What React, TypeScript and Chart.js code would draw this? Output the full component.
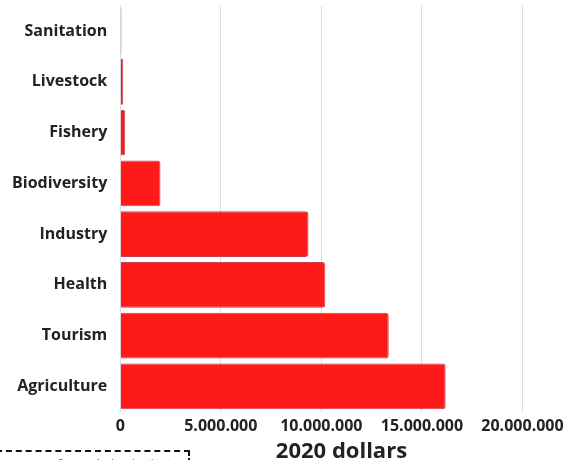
import React, { useEffect, useRef } from "react";
import { Chart, registerables } from "chart.js";

Chart.register(...registerables);

const categories = ["Sanitation", "Livestock", "Fishery", "Biodiversity", "Industry", "Health", "Tourism", "Agriculture"];
const values = [60000, 150000, 250000, 2000000, 9360000, 10200000, 13350000, 16180000];
const xTicks = [0, 5000000, 10000000, 15000000, 20000000];
const xMax = 22000000;
const xTitle = "2020 dollars";
const footnote = "Source: Authors' estimates (2020)";

const FONT = "'Open Sans', sans-serif";

export default function App() {
  const ref = useRef<HTMLCanvasElement>(null);
  useEffect(() => {
    if (!ref.current) return;
    const chart = new Chart(ref.current, {
      type: "bar",
      data: {
        labels: categories,
        datasets: [
          {
            data: values,
            backgroundColor: "#ff1a1a",
            borderColor: "#c84050",
            borderWidth: 1,
            borderRadius: 3,
            borderSkipped: "start",
            barPercentage: 0.95,
            categoryPercentage: 0.95,
          },
        ],
      },
      options: {
        indexAxis: "y",
        animation: false,
        responsive: false,
        maintainAspectRatio: false,
        layout: { padding: { top: 0, right: 4, left: 12, bottom: 0 } },
        plugins: { legend: { display: false }, tooltip: { enabled: false } },
        scales: {
          x: {
            min: 0,
            max: xMax,
            afterBuildTicks: (s: any) => {
              s.ticks = xTicks.map((v) => ({ value: v }));
            },
            ticks: {
              color: "#222",
              font: { family: FONT, size: 16, weight: "bold", lineHeight: 1.2 },
              callback: (v: any) => Number(v).toLocaleString("de-DE"),
              maxRotation: 0,
              autoSkip: false,
              padding: 5,
            },
            grid: { color: "#dddddd", drawTicks: false },
            border: { display: false },
            title: {
              display: true,
              text: xTitle,
              color: "#222",
              font: { family: FONT, size: 22, weight: "bold", lineHeight: 1.0 },
              padding: { top: 0, bottom: 0 },
            },
          },
          y: {
            ticks: {
              color: "#222",
              font: { family: FONT, size: 16, weight: "bold", lineHeight: 0.7 },
              padding: 0,
            },
            grid: { display: true, color: "rgba(0,0,0,0)", drawOnChartArea: false, drawTicks: true, tickLength: 13 },
            border: { display: false },
          },
        },
      },
    });
    return () => chart.destroy();
  }, []);
  return (
    <div style={{ position: "fixed", left: 0, top: 0, width: 569, height: 460, overflow: "hidden", background: "#fff" }}>
      <canvas ref={ref} width={569} height={463} style={{ display: "block" }} />
      <div
        style={{
          position: "absolute",
          left: -4,
          top: 450,
          width: 194,
          height: 30,
          border: "2px dashed #111",
          fontFamily: FONT,
          fontSize: 10,
          color: "#555",
          paddingLeft: 60,
          paddingTop: 4,
          boxSizing: "border-box",
        }}
      >
        {footnote}
      </div>
    </div>
  );
}
